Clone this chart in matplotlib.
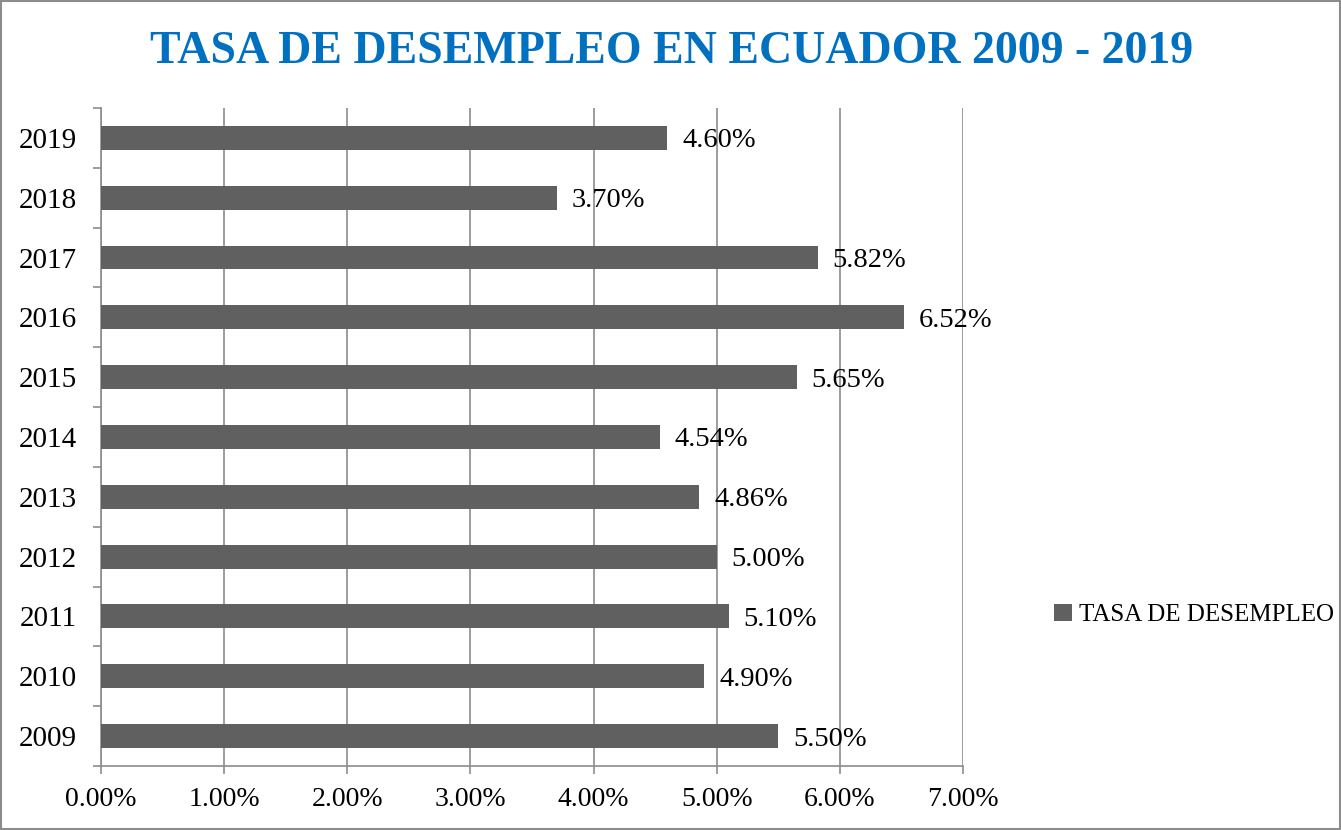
import matplotlib.pyplot as plt
from matplotlib.patches import Rectangle
from matplotlib.ticker import MultipleLocator, FuncFormatter

years = ["2009", "2010", "2011", "2012", "2013", "2014", "2015", "2016", "2017", "2018", "2019"]
tasa = [5.50, 4.90, 5.10, 5.00, 4.86, 4.54, 5.65, 6.52, 5.82, 3.70, 4.60]
series_name = "TASA DE DESEMPLEO"
title = "TASA DE DESEMPLEO EN ECUADOR 2009 - 2019"

bar_color = "#606060"
grid_color = "#8c8c8c"
serif = ["Liberation Serif", "DejaVu Serif"]

plt.rcParams['font.family'] = serif

fig = plt.figure(figsize=(13.41, 8.30), dpi=100)
ax = fig.add_axes([0.0753, 0.0771, 0.6428, 0.7928])

pos = list(range(len(years)))
bars = ax.barh(pos, tasa, height=0.4, color=bar_color, label=series_name, zorder=3)

for p, v in zip(pos, tasa):
    ax.text(v + 0.12, p - 0.05, "%.2f%%" % v, va="center", ha="left", fontsize=20.5, color="black")

ax.set_xlim(0, 7)
ax.set_ylim(-0.5, len(years) - 0.5)
ax.xaxis.set_major_locator(MultipleLocator(1))
ax.xaxis.set_major_formatter(FuncFormatter(lambda x, _: "%.2f%%" % x))
ax.grid(axis="x", color=grid_color, linewidth=1.2, zorder=0)

ax.set_yticks(pos)
ax.set_yticklabels(years)
ax.set_yticks([p - 0.5 for p in pos] + [len(years) - 0.5], minor=True)
ax.tick_params(axis="y", which="major", length=0, pad=17, labelsize=21)
ax.tick_params(axis="y", which="minor", length=6, color=grid_color, width=1.2)
ax.tick_params(axis="x", length=6, color=grid_color, width=1.2, labelsize=20, pad=9)

for s in ["top", "right"]:
    ax.spines[s].set_visible(False)
for s in ["left", "bottom"]:
    ax.spines[s].set_color(grid_color)
    ax.spines[s].set_linewidth(1.2)

fig.text(0.501, 0.937, title, ha="center", va="center", fontsize=33, fontweight="bold", color="#0070c0")

fig.legend(handles=[bars], labels=[series_name], loc="center left", bbox_to_anchor=(0.786, 0.259),
           frameon=False, fontsize=18, handlelength=0.7, handleheight=0.7, handletextpad=0.3,
           borderpad=0, borderaxespad=0)

fig.patches.append(Rectangle((0.001, 0.001), 0.998, 0.998, transform=fig.transFigure,
                             fill=False, edgecolor="#8c8c8c", linewidth=1.5))

fig.savefig("out.png", dpi=100)
plt.close()
